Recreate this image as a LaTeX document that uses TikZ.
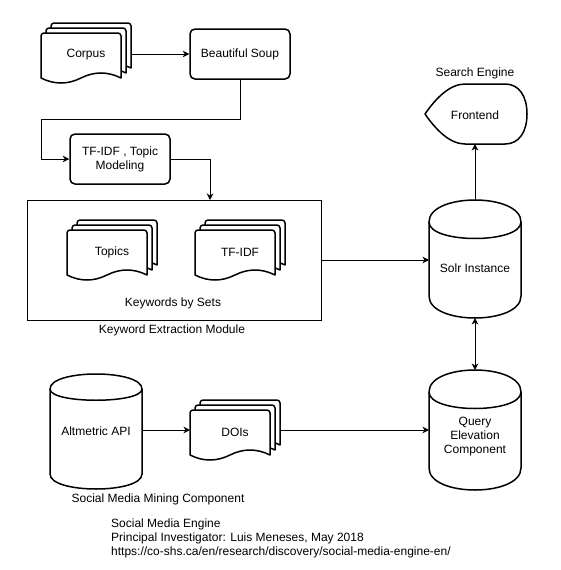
\documentclass[tikz,border=0pt]{standalone}
\usepackage{fontspec}
\setmainfont{Liberation Sans}
\usetikzlibrary{arrows.meta,calc}

\tikzset{
  shapeline/.style={line width=1.5pt, draw=black, line join=round},
  conn/.style={line width=1pt, draw=black, -{Stealth[length=6.5pt,width=6.5pt,inset=2pt]}},
  connboth/.style={line width=1pt, draw=black, {Stealth[length=6.5pt,width=6.5pt,inset=2pt]}-{Stealth[length=6.5pt,width=6.5pt,inset=2pt]}},
  hitbox/.style={draw=none, inner sep=0pt, outer sep=0pt},
  rbox/.style={shapeline, rounded corners=5pt, fill=white, minimum width=100pt, minimum height=50pt, inner sep=2pt, align=center},
  kembox/.style={draw=black, line width=1pt, inner sep=0pt, outer sep=0pt, minimum width=294pt, minimum height=120pt},
  lbl/.style={inner sep=0pt, align=center}
}

% document shape: left, top, width, height
\newcommand{\docshape}[4]{%
  \draw[shapeline,fill=white] ({#1},{#2+#4-5}) [rounded corners=3pt] -- ({#1},{#2}) -- ({#1+#3},{#2}) [sharp corners] -- ({#1+#3},{#2+#4-5})
   .. controls ({#1+#3-#3/6},{#2+#4-11.67}) and ({#1+#3/2+#3/6},{#2+#4-11.67}) .. ({#1+#3/2},{#2+#4-5})
   .. controls ({#1+#3/2-#3/6},{#2+#4+1.67}) and ({#1+#3/6},{#2+#4+1.67}) .. ({#1},{#2+#4-5}) -- cycle;}
% stack of three documents: left, top of 90x60 box
\newcommand{\multidoc}[2]{%
  \docshape{#1+10}{#2}{80}{50}%
  \docshape{#1+5}{#2+5}{80}{50}%
  \docshape{#1}{#2+10}{80}{50}}
% cylinder: x0, y0, w, h, dy
\newcommand{\cylshape}[5]{%
  \draw[shapeline,fill=white] ({#1},{#2+#5}) .. controls ({#1},{#2-#5/3}) and ({#1+#3},{#2-#5/3}) .. ({#1+#3},{#2+#5})
     -- ({#1+#3},{#2+#4-#5}) .. controls ({#1+#3},{#2+#4+#5/3}) and ({#1},{#2+#4+#5/3}) .. ({#1},{#2+#4-#5}) -- cycle;
  \draw[shapeline] ({#1},{#2+#5}) .. controls ({#1},{#2+2*#5}) and ({#1+#3},{#2+2*#5}) .. ({#1+#3},{#2+#5});}

\begin{document}
\begin{tikzpicture}[x=1pt,y=-1pt,font=\fontsize{12}{14}\selectfont]
\useasboundingbox[fill=white] (0,0) rectangle (561,570);

% ---------- Corpus ----------
\multidoc{41}{23}
\node[hitbox, minimum width=90pt, minimum height=60pt] (corpus) at (86,53) {};
\node[lbl] (corpusT) at (86,55) {Corpus};

% ---------- Beautiful Soup ----------
\node[rbox] (bsoup) at (240,54) {Beautiful Soup};

% ---------- TF-IDF, Topic Modeling ----------
\node[rbox] (tfidf) at (120,159) {TF-IDF , Topic\\Modeling};

% ---------- Keyword Extraction Module ----------
\node[kembox] (kem) at (174,260) {};
\node[lbl] (kemT) at (172,330) {Keyword Extraction Module};
\multidoc{67}{220}
\node[hitbox, minimum width=90pt, minimum height=60pt] (topics) at (112,250) {};
\node[lbl] (topicsT) at (112,252) {Topics};
\multidoc{195}{220}
\node[hitbox, minimum width=90pt, minimum height=60pt] (tfidfdoc) at (240,250) {};
\node[lbl] (tfidfdocT) at (240,252) {TF-IDF};
\node[lbl] (kwsets) at (173,303) {Keywords by Sets};

% ---------- Frontend ----------
\draw[shapeline,fill=white] (425,114) .. controls (436,98) and (450,84) .. (465,84) -- (505,84)
   .. controls (519,84) and (527,96) .. (527,114) .. controls (527,132) and (519,144) .. (505,144)
   -- (465,144) .. controls (450,144) and (436,130) .. (425,114) -- cycle;
\node[hitbox, minimum width=102pt, minimum height=60pt] (frontend) at (476,114) {};
\node[lbl] (frontendT) at (475,115) {Frontend};
\node[lbl] (searchT) at (475,73) {Search Engine};

% ---------- Solr Instance ----------
\cylshape{429}{200}{92}{118}{22}
\node[hitbox, minimum width=92pt, minimum height=118pt] (solr) at (475,259) {};
\node[lbl] (solrT) at (475,268) {Solr Instance};

% ---------- Query Elevation Component ----------
\cylshape{429}{370}{92}{120}{22}
\node[hitbox, minimum width=92pt, minimum height=120pt] (query) at (475,430) {};
\node[lbl] (queryT) at (475,437) {Query\\Elevation\\Component};

% ---------- Altmetric API ----------
\cylshape{50}{374}{92}{115}{15}
\node[hitbox, minimum width=92pt, minimum height=115pt] (altm) at (96,431.5) {};
\node[lbl] (altmT) at (96,431) {Altmetric API};
\node[lbl] (smmT) at (158,499) {Social Media Mining Component};

% ---------- DOIs ----------
\multidoc{190}{400}
\node[hitbox, minimum width=90pt, minimum height=60pt] (dois) at (235,430) {};
\node[lbl] (doisT) at (235,432) {DOIs};

% ---------- footer ----------
\node[inner sep=0pt, anchor=north west, align=left] (footer) at (111,518.5)
  {Social Media Engine\\Principal Investigator: Luis Meneses, May 2018\\https://co-shs.ca/en/research/discovery/social-media-engine-en/};

% ---------- connectors ----------
\coordinate (b1) at (41,119);
\coordinate (b2) at (210,200);
\draw[conn] (corpus.east |- bsoup.west) -- (bsoup.west);
\draw[conn] (bsoup.south) |- (b1) |- (tfidf.west);
\draw[conn] (tfidf.east) -| (b2);
\draw[conn] (kem.east) -- (kem.east -| solr.west);
\draw[conn] (solr.north) -- (solr.north |- frontend.south);
\draw[connboth] (solr.south) -- (query.north);
\draw[conn] (altm.east |- dois.west) -- (dois.west);
\draw[conn] (dois.east) -- (dois.east -| query.west);
\end{tikzpicture}
\end{document}
